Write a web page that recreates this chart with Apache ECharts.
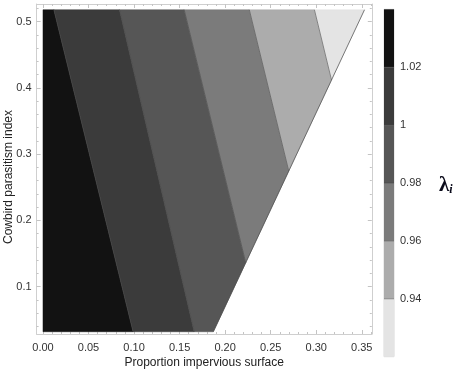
<!DOCTYPE html>
<html>
<head>
<meta charset="utf-8">
<script src="https://cdn.jsdelivr.net/npm/echarts@6/dist/echarts.min.js"></script>
<style>
  html, body { margin: 0; padding: 0; background: #fff; }
  #chart { width: 459px; height: 375px; }
</style>
</head>
<body>
<div id="chart"></div>
<script>
// data range of the computed surface
var yBottom = 0.032, yTop = 0.518;
// contour levels and where each contour line meets the bottom / top of the plot
var levels = [1.02, 1.00, 0.98, 0.96, 0.94];
var contourXBottom = [0.099, 0.166, 0.241, 0.313, 0.384];
var contourXTop = [0.012, 0.084, 0.155, 0.2265, 0.298];
// right edge of the valid region, x at yBottom and at yTop
var edgeX = [0.187, 0.353];
// band fills, highest lambda first
var bandColors = ['#121212', '#3b3b3b', '#565656', '#7b7b7b', '#acacac', '#e4e4e4'];
// colour bar: band limits, top to bottom
var legendEdges = [1.04, 1.02, 1.00, 0.98, 0.96, 0.94, 0.92];
var xTicks = [0, 0.05, 0.10, 0.15, 0.20, 0.25, 0.30, 0.35];
var yTicks = [0.1, 0.2, 0.3, 0.4, 0.5];

var xMin = -0.007, xMax = 0.361, yMin = 0.0286, yMax = 0.5267;
var frameColor = '#cfcfcf';
var font = 'Liberation Sans, Arial, sans-serif';

var xMinor = [], yMinor = [];
for (var i = 0; i <= 36; i++) if (i % 5) xMinor.push(i / 100);
for (var j = 2; j <= 52; j += 2) if (j % 10) yMinor.push(j / 100);

function lineX(b, y) {
  return b[0] + (b[1] - b[0]) * (y - yBottom) / (yTop - yBottom);
}
// keep the part of poly where sign*(x - line(y)) <= 0
function clip(poly, b, sign) {
  var out = [];
  for (var i = 0; i < poly.length; i++) {
    var p = poly[i], q = poly[(i + 1) % poly.length];
    var fp = sign * (p[0] - lineX(b, p[1]));
    var fq = sign * (q[0] - lineX(b, q[1]));
    if (fp <= 0) out.push(p);
    if ((fp < 0 && fq > 0) || (fp > 0 && fq < 0)) {
      var t = fp / (fp - fq);
      out.push([p[0] + (q[0] - p[0]) * t, p[1] + (q[1] - p[1]) * t]);
    }
  }
  return out;
}
function bandPolygon(k) {
  var poly = [[0, yBottom], [edgeX[0], yBottom], [edgeX[1], yTop], [0, yTop]];
  if (k < levels.length) poly = clip(poly, [contourXBottom[k], contourXTop[k]], 1);
  if (k > 0) poly = clip(poly, [contourXBottom[k - 1], contourXTop[k - 1]], -1);
  return poly;
}
function contourSegment(k) {
  var a = [contourXBottom[k], yBottom], b = [contourXTop[k], yTop];
  var fa = a[0] - lineX(edgeX, a[1]), fb = b[0] - lineX(edgeX, b[1]);
  if (fa > 0 && fb > 0) return null;
  if (fa > 0) { var t = fa / (fa - fb); a = [a[0] + (b[0] - a[0]) * t, a[1] + (b[1] - a[1]) * t]; }
  else if (fb > 0) { var s = fa / (fa - fb); b = [a[0] + (b[0] - a[0]) * s, a[1] + (b[1] - a[1]) * s]; }
  return [a, b];
}

var bandData = bandColors.map(function (c, k) { return [k]; });
var lineData = levels.map(function (l, k) { return [k]; });
var legendData = bandColors.map(function (c, k) { return [k]; });

function frameAxis(dir, pos, ticks, len, withLine) {
  return {
    type: 'value', gridIndex: 0, position: pos,
    min: dir === 'x' ? xMin : yMin, max: dir === 'x' ? xMax : yMax,
    axisLine: { show: withLine, onZero: false, lineStyle: { color: frameColor, width: 1 } },
    axisTick: { show: true, inside: true, length: len, customValues: ticks, lineStyle: { color: '#c4c4c4' } },
    axisLabel: { show: false },
    splitLine: { show: false }
  };
}

var xAxes = [
  {
    type: 'value', gridIndex: 0, position: 'bottom', min: xMin, max: xMax,
    axisLine: { show: true, onZero: false, lineStyle: { color: frameColor, width: 1 } },
    axisTick: { show: true, inside: true, length: 4, customValues: xTicks, lineStyle: { color: '#c4c4c4' } },
    axisLabel: {
      customValues: xTicks, margin: 8, color: '#333', fontSize: 11, fontFamily: font,
      formatter: function (v) { return v.toFixed(2); }
    },
    splitLine: { show: false },
    name: 'Proportion impervious surface', nameLocation: 'middle', nameGap: 23, nameMoveOverlap: false,
    nameTextStyle: { color: '#222', fontSize: 12, fontFamily: font }
  },
  frameAxis('x', 'bottom', xMinor, 2, false),
  frameAxis('x', 'top', xTicks, 4, true),
  frameAxis('x', 'top', xMinor, 2, false),
  { type: 'value', gridIndex: 1, min: 0, max: 1, show: false }
];
var yAxes = [
  {
    type: 'value', gridIndex: 0, position: 'left', min: yMin, max: yMax,
    axisLine: { show: true, onZero: false, lineStyle: { color: frameColor, width: 1 } },
    axisTick: { show: true, inside: true, length: 4, customValues: yTicks, lineStyle: { color: '#c4c4c4' } },
    axisLabel: {
      customValues: yTicks, margin: 5, color: '#333', fontSize: 11, fontFamily: font,
      formatter: function (v) { return v.toFixed(1); }
    },
    splitLine: { show: false },
    name: 'Cowbird parasitism index', nameLocation: 'middle', nameGap: 22, nameMoveOverlap: false,
    nameTextStyle: { color: '#222', fontSize: 12, fontFamily: font, padding: [0, 16, 0, 0] }
  },
  frameAxis('y', 'left', yMinor, 2, false),
  frameAxis('y', 'right', yTicks, 4, true),
  frameAxis('y', 'right', yMinor, 2, false),
  {
    type: 'value', gridIndex: 1, position: 'right', min: 0.92, max: 1.04,
    axisLine: { show: false }, axisTick: { show: false }, splitLine: { show: false },
    axisLabel: {
      customValues: levels, margin: 6, color: '#333', fontSize: 11, fontFamily: font,
      formatter: function (v) { return String(Math.round(v * 100) / 100); }
    }
  }
];

var chart = echarts.init(document.getElementById('chart'));
chart.setOption({
  animation: false,
  backgroundColor: '#fff',
  grid: [
    { left: 36.6, top: 4, right: 87.2, bottom: 41, containLabel: false, outerBoundsMode: 'none' },
    { left: 384, top: 9.3, width: 10, height: 347.4, show: true, borderColor: '#d8d8d8', borderWidth: 1, containLabel: false, outerBoundsMode: 'none' }
  ],
  xAxis: xAxes,
  yAxis: yAxes,
  graphic: [{
    type: 'text', left: 439, top: 175,
    style: {
      text: '{l|λ}{s|i}',
      rich: {
        l: { fontFamily: 'Liberation Serif, serif', fontWeight: 'bold', fontSize: 21, fill: '#0a0a1a' },
        s: { fontFamily: 'Liberation Serif, serif', fontStyle: 'italic', fontWeight: 'bold', fontSize: 12, fill: '#0a0a1a', padding: [8, 0, 0, 0] }
      }
    }
  }],
  series: [
    {
      type: 'custom', xAxisIndex: 0, yAxisIndex: 0, data: bandData, clip: true, silent: true,
      renderItem: function (params, api) {
        var k = api.value(0);
        var pts = bandPolygon(k).map(function (p) { return api.coord(p); });
        return { type: 'polygon', shape: { points: pts }, style: { fill: bandColors[k], stroke: bandColors[k], lineWidth: 0.5 } };
      }
    },
    {
      type: 'custom', xAxisIndex: 0, yAxisIndex: 0, data: lineData, clip: true, silent: true,
      renderItem: function (params, api) {
        var seg = contourSegment(api.value(0));
        if (!seg) return null;
        var a = api.coord(seg[0]), b = api.coord(seg[1]);
        return { type: 'line', shape: { x1: a[0], y1: a[1], x2: b[0], y2: b[1] }, style: { stroke: 'rgba(70,70,70,0.6)', lineWidth: 1 } };
      }
    },
    {
      type: 'custom', xAxisIndex: 0, yAxisIndex: 0, data: [[0]], clip: true, silent: true,
      renderItem: function (params, api) {
        var a = api.coord([edgeX[0], yBottom]), b = api.coord([edgeX[1], yTop]);
        return { type: 'line', shape: { x1: a[0], y1: a[1], x2: b[0], y2: b[1] }, style: { stroke: 'rgba(70,70,70,0.7)', lineWidth: 1 } };
      }
    },
    {
      type: 'custom', xAxisIndex: 4, yAxisIndex: 4, data: legendData, silent: true,
      renderItem: function (params, api) {
        var k = api.value(0);
        var p1 = api.coord([0, legendEdges[k]]), p2 = api.coord([1, legendEdges[k + 1]]);
        var children = [{ type: 'rect', shape: { x: p1[0], y: p1[1], width: p2[0] - p1[0], height: p2[1] - p1[1] }, style: { fill: bandColors[k] } }];
        if (k > 0) children.push({ type: 'line', shape: { x1: p1[0], y1: p1[1], x2: p2[0], y2: p1[1] }, style: { stroke: 'rgba(70,70,70,0.5)', lineWidth: 1 } });
        return { type: 'group', children: children };
      }
    }
  ]
});
</script>
</body>
</html>
